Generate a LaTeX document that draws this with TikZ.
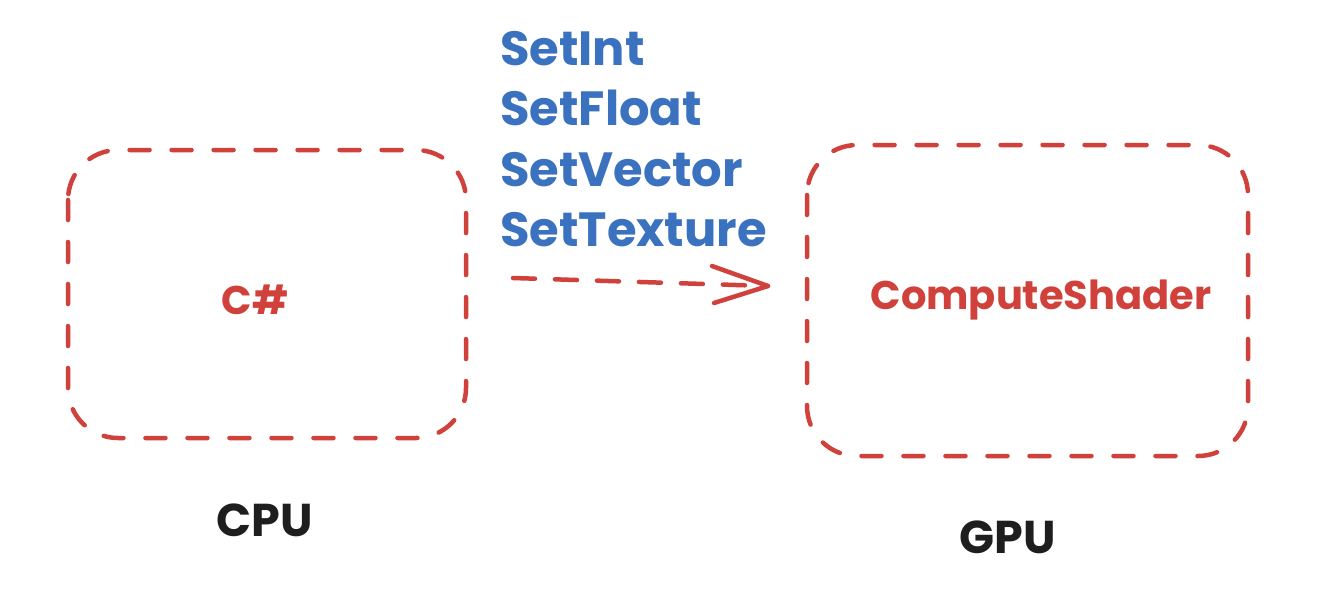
\documentclass[tikz,border=0pt]{standalone}
\usepackage{fontspec}
\setmainfont{Poppins}
\definecolor{sred}{HTML}{D0413B}
\definecolor{sblue}{HTML}{3A72C0}
\definecolor{sblack}{HTML}{1E1E1E}
\begin{document}
\begin{tikzpicture}[x=1pt,y=-1pt,
  boxstyle/.style={draw=sred,line width=4.5pt,line cap=round,dash pattern=on 20pt off 22pt,rounded corners=50pt},
  redtext/.style={text=sred,font=\fontsize{40}{48}\selectfont\bfseries,inner sep=0pt},
  bluetext/.style={text=sblue,font=\fontsize{48}{54}\selectfont\bfseries,inner sep=0pt,anchor=base west},
  blacktext/.style={text=sblack,font=\fontsize{46}{52}\selectfont\bfseries,inner sep=0pt},
  conn/.style={draw=sred,line width=4.5pt,line cap=round,dash pattern=on 22pt off 20pt},
  tip/.style={draw=sred,line width=4.5pt,line cap=round,line join=round}]
\useasboundingbox (0,0) rectangle (1324,606);
\fill[white] (0,0) rectangle (1324,606);
\draw[boxstyle] (68,150) rectangle (466,438);
\draw[boxstyle] (807,145) rectangle (1248,456);
\node[redtext] (cs) at (255,300) {C\#};
\node[redtext] (shader) at (1041,300) {ComputeShader};
\node[blacktext] (cpu) at (265,520) {CPU};
\node[blacktext] (gpu) at (1008,537) {GPU};
\node[bluetext] (l1) at (500,65) {SetInt};
\node[bluetext] (l2) at (500,125) {SetFloat};
\node[bluetext] (l3) at (500,186) {SetVector};
\node[bluetext] (l4) at (500,246) {SetTexture};
\coordinate (a0) at (513,278);
\coordinate (a1) at (768,286);
\coordinate (t1) at (712,266);
\coordinate (t2) at (714,303);
\draw[conn] (a0) -- (a1);
\draw[tip] (t1) -- (a1) -- (t2);
\end{tikzpicture}
\end{document}
